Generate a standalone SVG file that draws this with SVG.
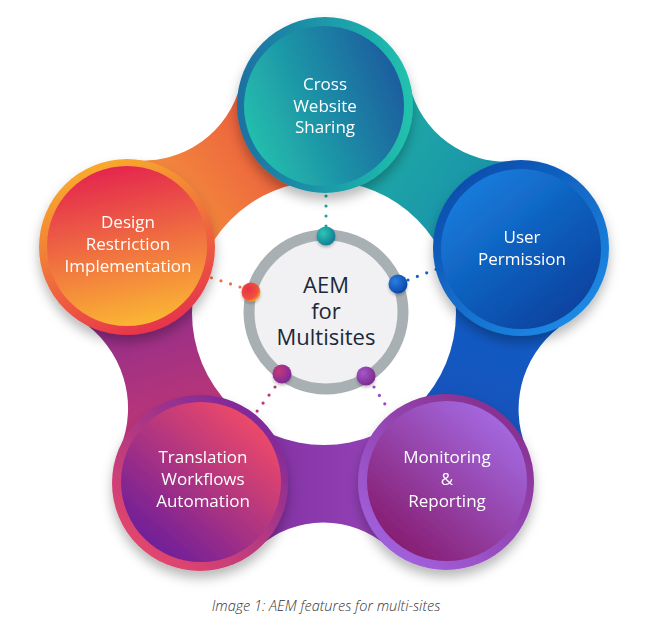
<svg xmlns="http://www.w3.org/2000/svg" width="650" height="620" viewBox="0 0 650 620">
<defs>
<style>
.lbl{font-family:"Open Sans","Noto Sans","Liberation Sans",sans-serif;font-size:17px;font-weight:500;fill:#ffffff;text-anchor:middle}
.ctr{font-family:"Open Sans","Noto Sans","Liberation Sans",sans-serif;font-size:22px;fill:#1c2838;text-anchor:middle;font-weight:500}
.cap{font-family:"Open Sans","Noto Sans","Liberation Sans",sans-serif;font-size:14.5px;font-style:italic;font-weight:300;fill:#333333;text-anchor:middle}
.dots{fill:none;stroke-width:3.2;stroke-linecap:round;stroke-dasharray:0 10}
</style>
<filter id="sh" x="-20%" y="-20%" width="140%" height="150%">
<feDropShadow dx="0" dy="7" stdDeviation="6" flood-color="#000" flood-opacity="0.28"/>
</filter>
<filter id="sh2" x="-30%" y="-30%" width="160%" height="160%">
<feDropShadow dx="0" dy="2" stdDeviation="1.5" flood-color="#000" flood-opacity="0.25"/>
</filter>
<linearGradient id="bTL" gradientUnits="userSpaceOnUse" x1="127" y1="247" x2="325" y2="105"><stop offset="0" stop-color="#f7a43b"/><stop offset="1" stop-color="#e8453f"/></linearGradient>
<linearGradient id="bTR" gradientUnits="userSpaceOnUse" x1="325" y1="105" x2="521" y2="248"><stop offset="0" stop-color="#20b5a5"/><stop offset="1" stop-color="#1788aa"/></linearGradient>
<linearGradient id="bRB" gradientUnits="userSpaceOnUse" x1="521" y1="248" x2="446" y2="482"><stop offset="0" stop-color="#0d62cc"/><stop offset="1" stop-color="#1a4cb4"/></linearGradient>
<linearGradient id="bBB" gradientUnits="userSpaceOnUse" x1="446" y1="482" x2="200" y2="483"><stop offset="0" stop-color="#9d4cc2"/><stop offset="1" stop-color="#7a2898"/></linearGradient>
<linearGradient id="bBL" gradientUnits="userSpaceOnUse" x1="127" y1="247" x2="200" y2="483"><stop offset="0" stop-color="#7c2a98"/><stop offset="1" stop-color="#d33a6a"/></linearGradient>
<linearGradient id="rT" x1="0" y1="0.5" x2="1" y2="0.5"><stop offset="0" stop-color="#1b6fa3"/><stop offset="1" stop-color="#20c3ae"/></linearGradient>
<linearGradient id="dT" x1="0" y1="0.7" x2="1" y2="0.3"><stop offset="0" stop-color="#22c1ad"/><stop offset="1" stop-color="#1a5a9e"/></linearGradient>
<linearGradient id="rL" x1="0.3" y1="0" x2="0.7" y2="1"><stop offset="0" stop-color="#f9ae2c"/><stop offset="1" stop-color="#e62f4c"/></linearGradient>
<linearGradient id="dL" x1="0.4" y1="0" x2="0.6" y2="1"><stop offset="0" stop-color="#e4254f"/><stop offset="1" stop-color="#fbb733"/></linearGradient>
<linearGradient id="rR" x1="0.1" y1="0" x2="0.9" y2="1"><stop offset="0" stop-color="#0a47a8"/><stop offset="1" stop-color="#1e90ea"/></linearGradient>
<linearGradient id="dR" x1="0.1" y1="0" x2="0.9" y2="1"><stop offset="0" stop-color="#1682e2"/><stop offset="1" stop-color="#0a3c98"/></linearGradient>
<linearGradient id="rBL" x1="0.9" y1="0" x2="0.1" y2="1"><stop offset="0" stop-color="#7226a0"/><stop offset="1" stop-color="#f04a66"/></linearGradient>
<linearGradient id="dBL" x1="0.85" y1="0.1" x2="0.15" y2="0.9"><stop offset="0" stop-color="#f04a68"/><stop offset="1" stop-color="#6c1e9a"/></linearGradient>
<linearGradient id="rBR" x1="0.9" y1="0" x2="0.1" y2="1"><stop offset="0" stop-color="#862a86"/><stop offset="1" stop-color="#a466e6"/></linearGradient>
<linearGradient id="dBR" x1="0.85" y1="0.1" x2="0.15" y2="0.9"><stop offset="0" stop-color="#a46ae2"/><stop offset="1" stop-color="#861c70"/></linearGradient>
<radialGradient id="gT" cx="0.35" cy="0.35" r="0.7"><stop offset="0" stop-color="#2cc7b4"/><stop offset="1" stop-color="#137a94"/></radialGradient>
<radialGradient id="gL" cx="0.35" cy="0.35" r="0.7"><stop offset="0" stop-color="#e8304a"/><stop offset="0.75" stop-color="#f0533c"/><stop offset="1" stop-color="#f9a826"/></radialGradient>
<radialGradient id="gR" cx="0.35" cy="0.35" r="0.7"><stop offset="0" stop-color="#2a7fe0"/><stop offset="1" stop-color="#0a45a8"/></radialGradient>
<radialGradient id="gBL" cx="0.35" cy="0.35" r="0.7"><stop offset="0" stop-color="#c8357a"/><stop offset="1" stop-color="#7a2a9a"/></radialGradient>
<radialGradient id="gBR" cx="0.35" cy="0.35" r="0.7"><stop offset="0" stop-color="#a458cc"/><stop offset="1" stop-color="#7a2a8a"/></radialGradient>
</defs>
<rect width="650" height="620" fill="#ffffff"/>

<g id="bands">
<path d="M325 105 L240.5 84.25 A100.4 100.4 0 0 1 134.4 160.3 L127 247 L324 313 Z" fill="url(#bTL)"/>
<path d="M325 105 L409.7 85.2 A99 99 0 0 0 514 161.3 L521 248 L324 313 Z" fill="url(#bTR)"/>
<path d="M521 248 L567.1 321.8 A103.2 103.2 0 0 0 526.4 448.75 L446 482 L324 313 Z" fill="url(#bRB)"/>
<path d="M446 482 L388.1 546.9 A97.4 97.4 0 0 0 258.1 547.7 L200 483 L324 313 Z" fill="url(#bBB)"/>
<path d="M200 483 L119.8 449.2 A105 105 0 0 0 79.9 320.1 L127 247 L324 313 Z" fill="url(#bBL)"/>
<circle cx="324" cy="313" r="132" fill="#ffffff"/>
</g>

<g id="connectors">
<line class="dots" x1="326" y1="226" x2="326" y2="190" stroke="#1fa5a6"/>
<line class="dots" x1="240" y1="287" x2="206" y2="276" stroke="#f0703e"/>
<line class="dots" x1="408" y1="280" x2="442" y2="267" stroke="#1560c8"/>
<line class="dots" x1="275" y1="387" x2="255" y2="414" stroke="#b8357a"/>
<line class="dots" x1="374" y1="387" x2="390" y2="412" stroke="#9a48c0"/>
</g>

<g id="node-top" filter="url(#sh)">
<circle cx="325" cy="105" r="88" fill="url(#rT)"/>
<circle cx="324" cy="106" r="80" fill="url(#dT)"/>
<text class="lbl" x="325" y="90">Cross</text>
<text class="lbl" x="325" y="112">Website</text>
<text class="lbl" x="325" y="133">Sharing</text>
</g>

<g id="node-left" filter="url(#sh)">
<circle cx="127" cy="247" r="88" fill="url(#rL)"/>
<circle cx="127" cy="246" r="80" fill="url(#dL)"/>
<text class="lbl" x="128" y="228">Design</text>
<text class="lbl" x="128" y="250">Restriction</text>
<text class="lbl" x="128" y="272">Implementation</text>
</g>

<g id="node-right" filter="url(#sh)">
<circle cx="521" cy="248" r="88" fill="url(#rR)"/>
<circle cx="521" cy="249" r="80" fill="url(#dR)"/>
<text class="lbl" x="522" y="243">User</text>
<text class="lbl" x="522" y="265">Permission</text>
</g>

<g id="node-bottom-left" filter="url(#sh)">
<circle cx="200" cy="483" r="88" fill="url(#rBL)"/>
<circle cx="201" cy="482" r="80" fill="url(#dBL)"/>
<text class="lbl" x="203" y="463">Translation</text>
<text class="lbl" x="203" y="485">Workflows</text>
<text class="lbl" x="203" y="507">Automation</text>
</g>

<g id="node-bottom-right" filter="url(#sh)">
<circle cx="446" cy="482" r="88" fill="url(#rBR)"/>
<circle cx="447" cy="481" r="80" fill="url(#dBR)"/>
<text class="lbl" x="447" y="463">Monitoring</text>
<text class="lbl" x="447" y="485">&amp;</text>
<text class="lbl" x="447" y="507">Reporting</text>
</g>

<g id="node-center">
<circle cx="326" cy="312" r="77" fill="#f1f1f3" stroke="#a9b0b3" stroke-width="11"/>
<text class="ctr" x="326" y="293">AEM</text>
<text class="ctr" x="326" y="319">for</text>
<text class="ctr" x="326" y="345">Multisites</text>
<g filter="url(#sh2)">
<circle cx="326" cy="236" r="9.5" fill="url(#gT)"/>
<circle cx="251" cy="292" r="9.5" fill="url(#gL)"/>
<circle cx="398" cy="284" r="9.5" fill="url(#gR)"/>
<circle cx="282" cy="374" r="9.5" fill="url(#gBL)"/>
<circle cx="366" cy="376" r="9.5" fill="url(#gBR)"/>
</g>
</g>

<text class="cap" x="326" y="611">Image 1: AEM features for multi-sites</text>
</svg>
